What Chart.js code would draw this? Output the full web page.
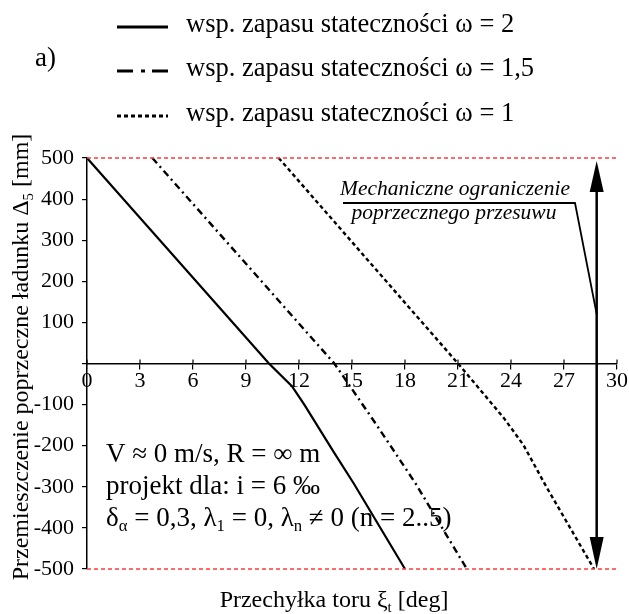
<!DOCTYPE html>
<html lang="pl">
<head>
<meta charset="utf-8">
<script src="https://cdn.jsdelivr.net/npm/chart.js"></script>
<style>
  html, body { margin:0; padding:0; background:#fff; }
  canvas { display:block; }
</style>
</head>
<body>
<canvas id="chart" width="629" height="614"></canvas>
<script>
// dane
const xTicks = [0, 3, 6, 9, 12, 15, 18, 21, 24, 27, 30];
const yTicks = [500, 400, 300, 200, 100, 0, -100, -200, -300, -400, -500];

const omega2X  = [0, 10.3, 11.6, 12.3, 13.96, 15.1, 18.0];
const omega2Y  = [500, 0, -55, -100, -215, -292, -500];
const omega15X = [3.7, 14.0, 14.9, 16.4, 18.6, 21.5];
const omega15Y = [500, 0, -56, -150, -292, -500];
const omega1X  = [10.85, 21.0, 22.1, 23.6, 24.7, 26.0, 28.7];
const omega1Y  = [500, 0, -56, -133, -198, -300, -500];

const limitX = [0, 30];
const limitTop = [500, 500];
const limitBottom = [-500, -500];
const arrowX = 28.85;      // strzałka ograniczenia
const leaderY = 120;       // gdzie odnośnik dotyka strzałki

const legendLabels = [
  'wsp. zapasu stateczności ω = 2',
  'wsp. zapasu stateczności ω = 1,5',
  'wsp. zapasu stateczności ω = 1'
];

const SERIF = '"Liberation Serif", "DejaVu Serif", serif';
const pts = (xs, ys) => xs.map((x, i) => ({ x, y: ys[i] }));

const dashes = [[], [7, 4, 2, 4], [4, 3]];
const legendDashes = [[], [16, 8, 4, 7], [4, 3]];

function line(data, dash, width, color) {
  return {
    data, showLine: true, borderColor: color || '#000', borderWidth: width,
    borderDash: dash, pointRadius: 0, tension: 0, clip: false, fill: false
  };
}

// tekst z indeksami dolnymi: [[tekst, sub?], ...]
function partsWidth(ctx, parts, size) {
  let w = 0;
  parts.forEach(([t, sub]) => { ctx.font = (sub ? size * 0.62 : size) + 'px ' + SERIF; w += ctx.measureText(t).width; });
  return w;
}
function richText(ctx, parts, x, y, size) {
  let cx = x;
  ctx.textAlign = 'left';
  parts.forEach(([t, sub]) => {
    ctx.font = (sub ? size * 0.62 : size) + 'px ' + SERIF;
    ctx.fillText(t, cx, sub ? y + size * 0.2 : y);
    cx += ctx.measureText(t).width;
  });
  return cx - x;
}

const extras = {
  id: 'extras',
  afterDatasetsDraw(chart) {
    const { ctx, scales: { x, y } } = chart;
    ctx.save();
    ctx.strokeStyle = '#000';
    ctx.fillStyle = '#000';
    ctx.textBaseline = 'alphabetic';

    // kreski osi x po obu stronach
    const y0 = y.getPixelForValue(0);
    ctx.lineWidth = 1.2;
    xTicks.forEach(v => {
      const px = x.getPixelForValue(v);
      ctx.beginPath(); ctx.moveTo(px, y0 - 4); ctx.lineTo(px, y0); ctx.stroke();
    });

    // strzałka dwukierunkowa
    const ax = x.getPixelForValue(arrowX);
    const yt = y.getPixelForValue(500) + 3, yb = y.getPixelForValue(-500);
    ctx.lineWidth = 2.5;
    ctx.beginPath(); ctx.moveTo(ax, yt + 20); ctx.lineTo(ax, yb - 20); ctx.stroke();
    ctx.beginPath(); ctx.moveTo(ax, yt); ctx.lineTo(ax - 7, yt + 31); ctx.lineTo(ax + 7, yt + 31); ctx.closePath(); ctx.fill();
    ctx.beginPath(); ctx.moveTo(ax, yb); ctx.lineTo(ax - 7, yb - 32); ctx.lineTo(ax + 7, yb - 32); ctx.closePath(); ctx.fill();

    // opis ograniczenia
    ctx.lineWidth = 1.8;
    ctx.beginPath();
    ctx.moveTo(343, 203); ctx.lineTo(575, 203);
    ctx.lineTo(ax, y.getPixelForValue(leaderY));
    ctx.stroke();
    ctx.textAlign = 'center';
    ctx.font = 'italic 21.5px ' + SERIF;
    ctx.fillText('Mechaniczne ograniczenie', 455, 195);
    ctx.fillText('poprzecznego przesuwu', 454, 219);

    // parametry
    ctx.textAlign = 'left';
    ctx.font = '27px ' + SERIF;
    ctx.fillText('V ≈ 0 m/s, R = ∞ m', 106, 462);
    ctx.fillText('projekt dla: i = 6 ‰', 106, 494);
    richText(ctx, [['δ'], ['α', 1], [' = 0,3, λ'], ['1', 1], [' = 0, λ'], ['n', 1], [' ≠ 0 (n = 2..5)']], 106, 526, 27);

    // legenda
    const rows = [27, 71, 116];
    rows.forEach((ry, i) => {
      ctx.lineWidth = 3.2;
      ctx.setLineDash(legendDashes[i]);
      ctx.beginPath(); ctx.moveTo(117, ry); ctx.lineTo(168, ry); ctx.stroke();
      ctx.setLineDash([]);
      ctx.textAlign = 'left';
      ctx.font = '26.5px ' + SERIF;
      ctx.fillText(legendLabels[i], 186, ry + 5);
    });
    ctx.font = '27px ' + SERIF;
    ctx.fillText('a)', 35, 66);

    // tytuły osi
    const xt = [['Przechyłka toru ξ'], ['t', 1], [' [deg]']];
    richText(ctx, xt, 334 - partsWidth(ctx, xt, 24) / 2, 607, 24);
    ctx.translate(28, 357);
    ctx.rotate(-Math.PI / 2);
    const yt2 = [['Przemieszczenie poprzeczne ładunku Δ'], ['5', 1], [' [mm]']];
    richText(ctx, yt2, -partsWidth(ctx, yt2, 24) / 2, 0, 24);
    ctx.restore();
  }
};

new Chart(document.getElementById('chart'), {
  type: 'scatter',
  data: {
    datasets: [
      line(pts(limitX, limitTop), [4, 3], 1.5, '#ff3b3b'),
      line(pts(limitX, limitBottom), [4, 3], 1.5, '#ff3b3b'),
      line(pts(omega2X, omega2Y), dashes[0], 2.2),
      line(pts(omega15X, omega15Y), dashes[1], 2.4),
      line(pts(omega1X, omega1Y), dashes[2], 2.4)
    ]
  },
  options: {
    responsive: false,
    animation: false,
    devicePixelRatio: 1,
    layout: { padding: { left: 0, top: 158, right: 12, bottom: 45 } },
    plugins: { legend: { display: false }, tooltip: { enabled: false } },
    scales: {
      x: {
        type: 'linear', min: 0, max: 30,
        position: { y: 0 },
        afterBuildTicks: s => { s.ticks = xTicks.map(v => ({ value: v })); },
        ticks: { color: '#000', font: { family: SERIF, size: 22 }, padding: 0, maxRotation: 0, autoSkip: false },
        grid: { drawOnChartArea: false, drawTicks: true, tickLength: 5, color: '#000', lineWidth: 1.2 },
        border: { color: '#000', width: 1.5 }
      },
      y: {
        type: 'linear', min: -500, max: 500,
        afterBuildTicks: s => { s.ticks = yTicks.map(v => ({ value: v })); },
        afterFit: s => { s.width = 87; },
        ticks: {
          color: '#000', font: { family: SERIF, size: 22 }, padding: 8, autoSkip: false,
          callback: v => v === 0 ? '' : String(v)
        },
        grid: { drawOnChartArea: false, drawTicks: true, tickLength: 5, color: '#000', lineWidth: 1.2 },
        border: { color: '#000', width: 1.5 }
      }
    }
  },
  plugins: [extras]
});
</script>
</body>
</html>
